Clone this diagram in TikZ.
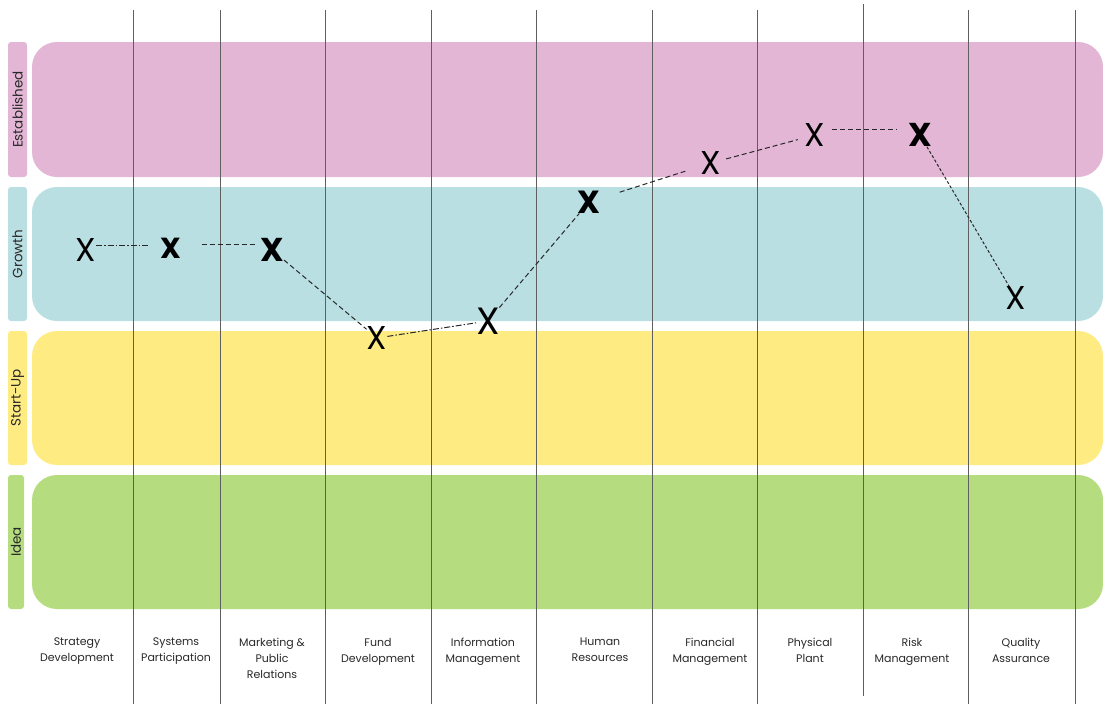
\documentclass[tikz,border=0pt]{standalone}
\usepackage{fontspec}
\setmainfont{Poppins}
\usetikzlibrary{calc}
\tikzset{>=latex}
\definecolor{Pink}{RGB}{227,182,213}
\definecolor{Teal}{RGB}{185,223,227}
\definecolor{Sun}{RGB}{254,236,130}
\definecolor{Leaf}{RGB}{181,221,127}
\definecolor{Rule}{RGB}{95,95,95}
\definecolor{Ink}{RGB}{40,40,40}

\begin{document}
\begin{tikzpicture}[x=1pt,y=-1pt,
    label/.style={font=\fontsize{11}{16}\selectfont,text=Ink,align=center,inner sep=0pt},
    stage/.style={font=\fontsize{13.5}{16}\selectfont,text=Ink,inner sep=0pt,rotate=90},
    xmark/.style={font=\fontsize{#1}{#1}\selectfont,inner sep=0pt},
    xbold/.style={font=\fontsize{#1}{#1}\selectfont\bfseries,inner sep=0pt},
    link/.style={Ink,line width=1pt,dash pattern=on 5pt off 3pt},
    dotlink/.style={Ink,line width=1pt,dash pattern=on 6pt off 2pt on 1.5pt off 2pt}]
  \useasboundingbox (0,0) rectangle (1103,704);
  \foreach \name/\col/\top/\bot/\w/\lab in {est/Pink/42/177/27/Established,gro/Teal/187/321/27/Growth,sta/Sun/331/465/27/Start-Up,ide/Leaf/475/609/24/Idea}{
    \fill[\col,rounded corners=25pt] (32,\top) rectangle (1103,\bot);
    \fill[\col,rounded corners=3pt] (8,\top) rectangle (\w,\bot);
    \node[stage] (\name) at ({(8+\w)/2},{(\top+\bot)/2}) {\lab};
  }
  \foreach \x in {133,220,325,431,536,652,757,968,1075}
    \draw[Rule,line width=0.8pt] (\x,10) -- (\x,704);
  \draw[Rule,line width=0.8pt] (863,4) -- (863,696);
  \foreach \x/\txt [count=\i] in {77/Strategy\\Development,176/Systems\\Participation,272/Marketing \&\\Public\\Relations,378/Fund\\Development,483/Information\\Management,600/Human\\Resources,710/Financial\\Management,810/Physical\\Plant,912/Risk\\Management,1021/Quality\\Assurance}
    \node[label,anchor=north] (area\i) at (\x,638) {\txt};
  \node[xmark=33] (s1) at (86,250) {X};
  \node[xbold=29] (s2) at (171,248) {X};
  \node[xbold=33] (s3) at (272,250) {X};
  \node[xmark=33] (s4) at (377,338) {X};
  \node[xmark=38] (s5) at (488,321) {X};
  \node[xbold=32] (s6) at (589,202) {X};
  \node[xmark=33] (s7) at (711,163) {X};
  \node[xmark=33] (s8) at (815,135) {X};
  \node[xbold=33] (s9) at (920,135) {X};
  \node[xmark=33] (s10) at (1016,298) {X};
  \draw[dotlink,shorten >=10pt] ([yshift=5pt]s1.east) -- ([yshift=5pt]s2.west |- s1.east);
  \draw[link,shorten <=20pt,shorten >=5pt] ([yshift=4pt]s2.east) -- ([yshift=4pt]s2.east -| s3.west);
  \draw[link] (s3) -- (s4);
  \draw[dotlink] (s4) -- (s5);
  \draw[link] (s5) -- (s6);
  \draw[link,shorten <=20pt,shorten >=16pt] (s6) -- (s7);
  \draw[link,shorten <=5pt,shorten >=7pt] (s7) -- (s8);
  \draw[link,shorten <=7pt,shorten >=11pt] ([yshift=6pt]s8.east) -- ([yshift=6pt]s9.west);
  \draw[link,dash pattern=on 3pt off 2pt] (s9) -- (s10);
\end{tikzpicture}
\end{document}
